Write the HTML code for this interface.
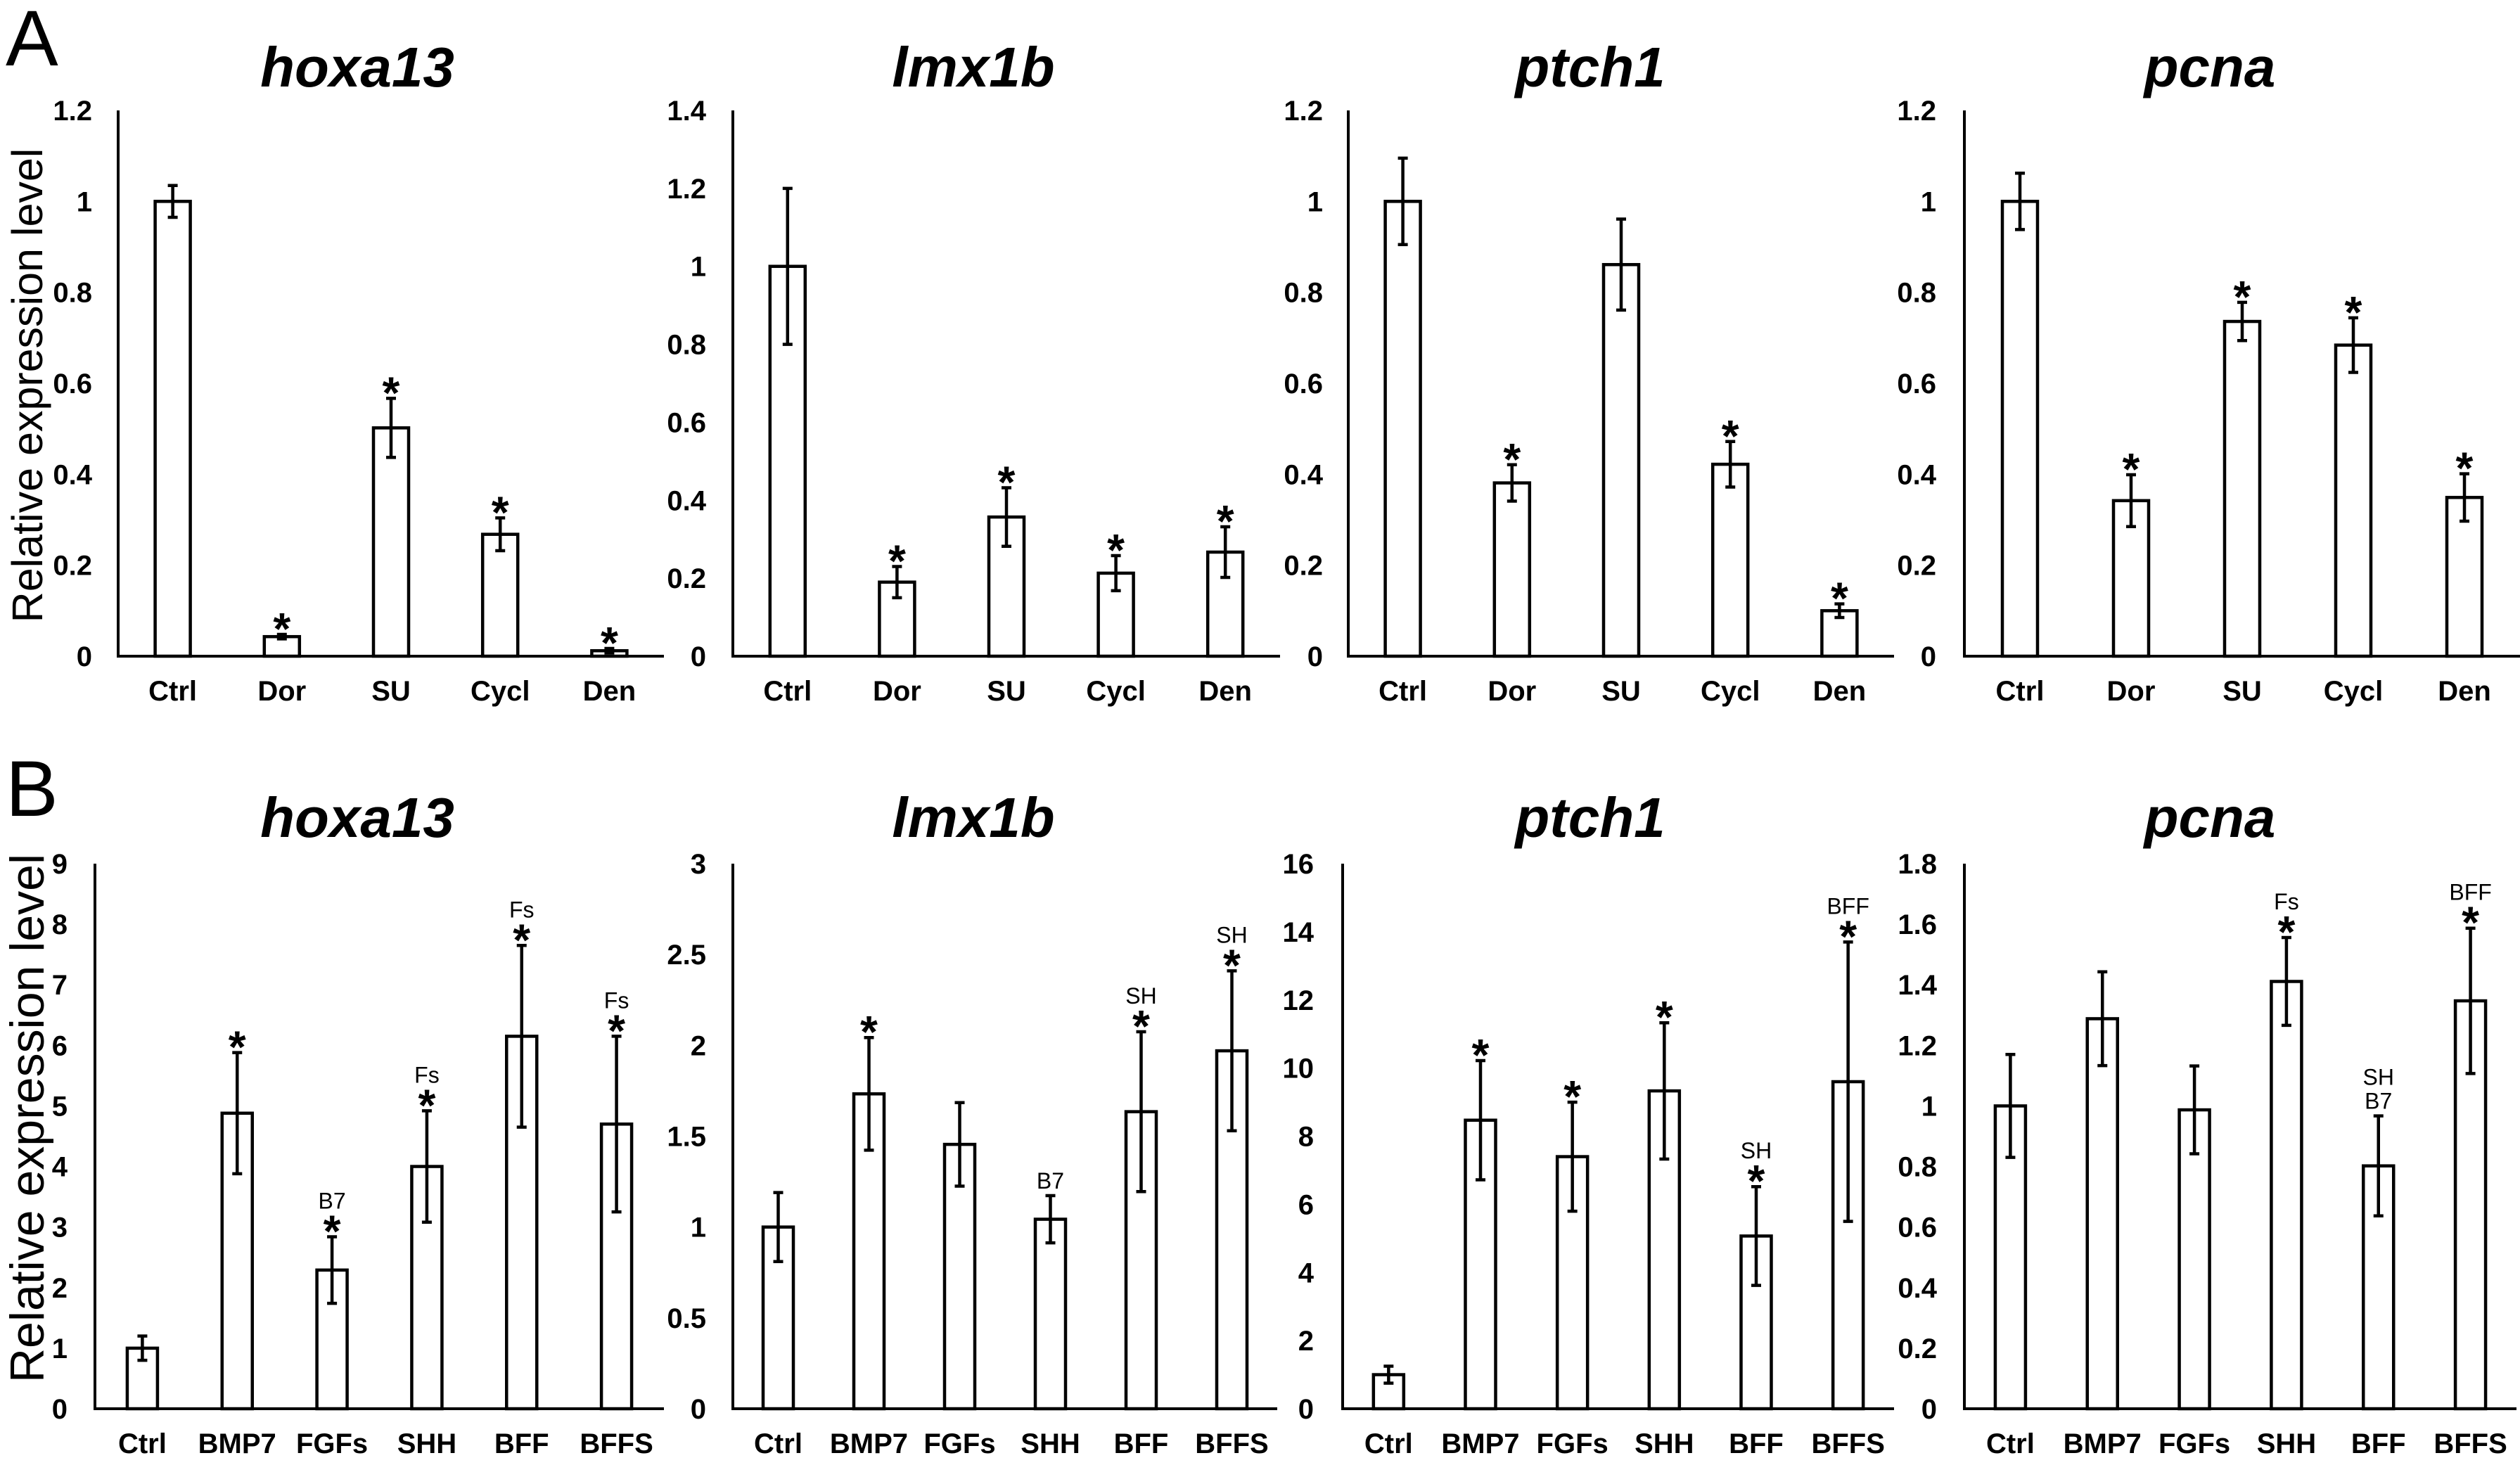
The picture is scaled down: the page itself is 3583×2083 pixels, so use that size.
<!DOCTYPE html>
<html><head><meta charset="utf-8">
<style>
html,body{margin:0;padding:0;background:#fff;}
svg{display:block;}
text{font-family:"Liberation Sans",Arial,sans-serif;fill:#000;}
</style></head>
<body>
<svg id="fig" width="3583" height="2083" viewBox="0 0 3583 2083" xmlns="http://www.w3.org/2000/svg">
<rect width="3583" height="2083" fill="#fff"/>
<text x="8" y="93" font-size="112">A</text>
<text x="8" y="1160" font-size="112">B</text>
<text transform="translate(60,548) rotate(-90)" text-anchor="middle" font-size="61">Relative expression level</text>
<text transform="translate(62,1590) rotate(-90)" text-anchor="middle" font-size="68">Relative expression level</text>
</svg>
<script>
// ---- data ----
const catsA = ["Ctrl","Dor","SU","Cycl","Den"];
const catsB = ["Ctrl","BMP7","FGFs","SHH","BFF","BFFS"];

const a1Vals = [1.0,0.043,0.502,0.268,0.012];
const a1Errs = [0.035,0.005,0.065,0.036,0.005];
const a1Stars = [0,1,1,1,1];
const a1Notes = ["","","","",""];
const a1Ticks = ["0","0.2","0.4","0.6","0.8","1","1.2"];

const a2Vals = [1.0,0.19,0.357,0.213,0.267];
const a2Errs = [0.2,0.04,0.075,0.045,0.065];
const a2Stars = [0,1,1,1,1];
const a2Notes = ["","","","",""];
const a2Ticks = ["0","0.2","0.4","0.6","0.8","1","1.2","1.4"];

const a3Vals = [1.0,0.381,0.861,0.422,0.1];
const a3Errs = [0.095,0.04,0.1,0.05,0.015];
const a3Stars = [0,1,0,1,1];
const a3Notes = ["","","","",""];
const a3Ticks = ["0","0.2","0.4","0.6","0.8","1","1.2"];

const a4Vals = [1.0,0.342,0.736,0.684,0.349];
const a4Errs = [0.062,0.057,0.042,0.06,0.052];
const a4Stars = [0,1,1,1,1];
const a4Notes = ["","","","",""];
const a4Ticks = ["0","0.2","0.4","0.6","0.8","1","1.2"];

const b1Vals = [1.0,4.88,2.29,4.0,6.15,4.70];
const b1Errs = [0.2,1.0,0.55,0.92,1.5,1.45];
const b1Stars = [0,1,1,1,1,1];
const b1Notes = ["","","B7","Fs","Fs","Fs"];
const b1Ticks = ["0","1","2","3","4","5","6","7","8","9"];

const b2Vals = [1.0,1.733,1.455,1.043,1.635,1.97];
const b2Errs = [0.19,0.31,0.23,0.13,0.44,0.44];
const b2Stars = [0,1,0,0,1,1];
const b2Notes = ["","","","B7","SH","SH"];
const b2Ticks = ["0","0.5","1","1.5","2","2.5","3"];

const b3Vals = [1.0,8.47,7.4,9.33,5.07,9.6];
const b3Errs = [0.25,1.75,1.6,2.0,1.45,4.1];
const b3Stars = [0,1,1,1,1,1];
const b3Notes = ["","","","","SH","BFF"];
const b3Ticks = ["0","2","4","6","8","10","12","14","16"];

const b4Vals = [1.0,1.288,0.987,1.411,0.802,1.347];
const b4Errs = [0.17,0.155,0.145,0.145,0.165,0.24];
const b4Stars = [0,0,0,1,0,1];
const b4Notes = ["","","","Fs","SH|B7","BFF"];
const b4Ticks = ["0","0.2","0.4","0.6","0.8","1","1.2","1.4","1.6","1.8"];

// ---- drawing ----
const NS="http://www.w3.org/2000/svg";
const svg=document.getElementById('fig');
function mk(tag,attrs,parent){const e=document.createElementNS(NS,tag);for(const k in attrs)e.setAttribute(k,attrs[k]);(parent||svg).appendChild(e);return e;}

function chart(o){
  const g=mk('g',{});
  
  
  const n=o.cats.length, maxV=parseFloat(o.ticks[o.ticks.length-1]);
  const step=(o.x1-o.x0)/n;
  const y=v=>o.base-(v/maxV)*(o.base-o.top);
  const xc=i=>o.x0+step*(i+0.5);
  const t=mk('text',{x:o.tx,y:o.ty,'text-anchor':'middle','font-size':80,'font-weight':'bold','font-style':'italic'},g);
  t.textContent=o.title;
  
  
  o.ticks.forEach(lb=>{
    const tt=mk('text',{x:o.lx,y:y(parseFloat(lb))+14,'text-anchor':'end','font-size':40,'font-weight':'bold'},g);
    tt.textContent=lb;
    
    
  });
  o.cats.forEach((c,i)=>{
    const v=o.vals[i],e=o.errs[i],cx=xc(i),w=o.bw;
    const r=mk('rect',{x:cx-w/2,y:y(v),width:w,height:o.base-y(v),fill:'#fff',stroke:'#000','stroke-width':4.5},g);
    
    
    const yt=y(v+e),yb=y(v-e);
    const eb=mk('path',{d:`M${cx},${yt}V${yb}M${cx-7},${yt}H${cx+7}M${cx-7},${yb}H${cx+7}`,stroke:'#000','stroke-width':4.5,fill:'none'},g);
    
    
    let ly=yt;
    if(o.stars[i]){
      const s=mk('text',{x:cx,y:yt+14,'text-anchor':'middle','font-size':64,'font-weight':'bold'},g);
      s.textContent='*';
      
      
      ly=yt-40;
    } else { ly=yt-10; }
    if(o.notes[i]){
      const parts=o.notes[i].split('|');
      parts.forEach((p,k)=>{
        const a=mk('text',{x:cx,y:ly-(parts.length-1-k)*34,'text-anchor':'middle','font-size':32},g);
        a.textContent=p;
        
        
      });
    }
    const cl=mk('text',{x:cx,y:o.base+63,'text-anchor':'middle','font-size':40,'font-weight':'bold'},g);
    cl.textContent=c;
    
    
  });
  const ax=mk('path',{d:`M${o.x0},${o.top}V${o.base}H${o.x1}`,stroke:'#000','stroke-width':4,fill:'none'},g);
  
  
}

const TA=157,BA=933,TB=1228,BB=2003;
chart({name:'chart-a-hoxa13',title:'hoxa13',cats:catsA,vals:a1Vals,errs:a1Errs,stars:a1Stars,notes:a1Notes,ticks:a1Ticks,x0:168,x1:944,top:TA,base:BA,lx:131,tx:508,ty:123,bw:50});
chart({name:'chart-a-lmx1b',title:'lmx1b',cats:catsA,vals:a2Vals,errs:a2Errs,stars:a2Stars,notes:a2Notes,ticks:a2Ticks,x0:1042,x1:1820,top:TA,base:BA,lx:1004,tx:1384,ty:123,bw:50});
chart({name:'chart-a-ptch1',title:'ptch1',cats:catsA,vals:a3Vals,errs:a3Errs,stars:a3Stars,notes:a3Notes,ticks:a3Ticks,x0:1917,x1:2693,top:TA,base:BA,lx:1881,tx:2261,ty:123,bw:50});
chart({name:'chart-a-pcna',title:'pcna',cats:catsA,vals:a4Vals,errs:a4Errs,stars:a4Stars,notes:a4Notes,ticks:a4Ticks,x0:2793,x1:3583,top:TA,base:BA,lx:2753,tx:3142,ty:123,bw:50});
chart({name:'chart-b-hoxa13',title:'hoxa13',cats:catsB,vals:b1Vals,errs:b1Errs,stars:b1Stars,notes:b1Notes,ticks:b1Ticks,x0:135,x1:944,top:TB,base:BB,lx:96,tx:508,ty:1190,bw:43});
chart({name:'chart-b-lmx1b',title:'lmx1b',cats:catsB,vals:b2Vals,errs:b2Errs,stars:b2Stars,notes:b2Notes,ticks:b2Ticks,x0:1042,x1:1816,top:TB,base:BB,lx:1004,tx:1384,ty:1190,bw:43});
chart({name:'chart-b-ptch1',title:'ptch1',cats:catsB,vals:b3Vals,errs:b3Errs,stars:b3Stars,notes:b3Notes,ticks:b3Ticks,x0:1909,x1:2693,top:TB,base:BB,lx:1868,tx:2261,ty:1190,bw:43});
chart({name:'chart-b-pcna',title:'pcna',cats:catsB,vals:b4Vals,errs:b4Errs,stars:b4Stars,notes:b4Notes,ticks:b4Ticks,x0:2793,x1:3578,top:TB,base:BB,lx:2754,tx:3142,ty:1190,bw:43});
</script>
</body></html>
